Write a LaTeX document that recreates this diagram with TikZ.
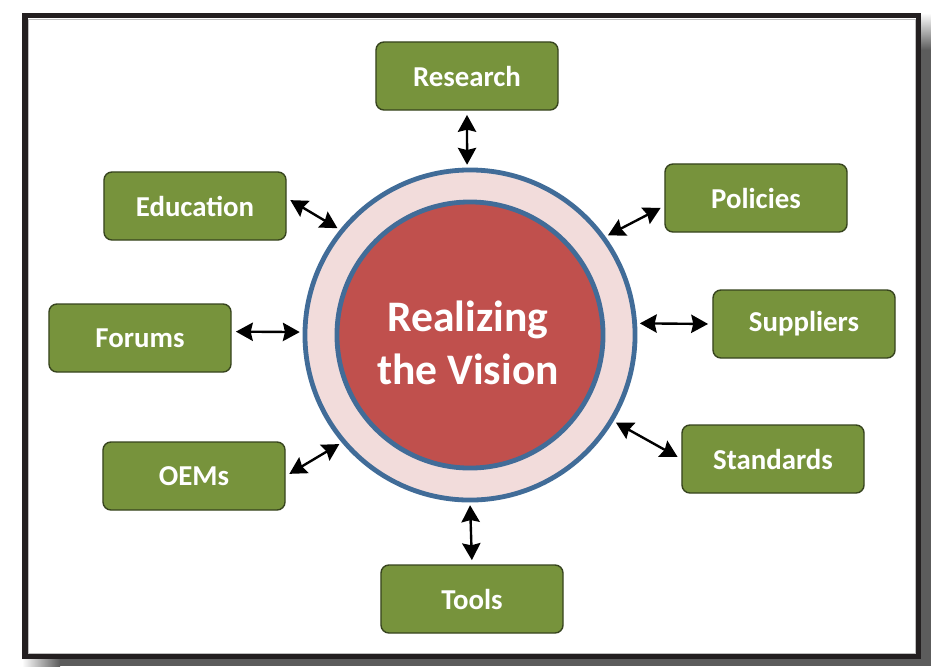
\documentclass[tikz,border=0pt]{standalone}
\usepackage{fontspec}
\setmainfont{Carlito}
\usetikzlibrary{arrows.meta, positioning, calc}
\definecolor{framegray}{RGB}{35,31,32}
\definecolor{shadowgray}{RGB}{92,92,92}
\definecolor{topicgreen}{RGB}{119,147,60}
\definecolor{topicedge}{RGB}{55,68,30}
\definecolor{ringblue}{RGB}{65,108,152}
\definecolor{ringpink}{RGB}{242,220,219}
\definecolor{visionred}{RGB}{192,80,77}
\tikzset{
  topicbox/.style={fill=topicgreen, draw=topicedge, line width=1pt, rounded corners=0.2cm,
                   minimum width=4.55cm, minimum height=1.7cm, text=white,
                   font=\fontsize{20.5}{24}\selectfont\bfseries},
  link/.style={{Stealth[length=12pt,width=13pt,inset=1.5pt]}-{Stealth[length=12pt,width=13pt,inset=1.5pt]},
               line width=1.7pt, shorten <=3pt, shorten >=2pt}
}

\begin{document}
\begin{tikzpicture}[x=0.025cm, y=-0.025cm]
            \useasboundingbox (0,0) rectangle (931,666);
            \fill[shadowgray] (60,659) rectangle (931,666);
            \fill[shadowgray] (921,50) rectangle (931,666);
            \shade[left color=white, right color=shadowgray] (22,659) rectangle (60,666);
            \shade[top color=white, bottom color=shadowgray] (921,13) rectangle (931,50);
            \draw[framegray, line width=0.14cm, fill=white] (25,15.5) rectangle (918.5,656.5);
            \draw[black!25, line width=0.4pt] (28.5,19) rectangle (915,653);

            \node[circle, minimum size=8.25cm, inner sep=0pt, fill=ringpink, draw=ringblue,
                  line width=0.12cm] (ring) at (470,335) {};
            \node[circle, minimum size=6.65cm, inner sep=0pt, fill=visionred, draw=ringblue,
                  line width=0.12cm] (vision) at (470,335) {};
            \node[text=white, align=center, font=\fontsize{31}{37.7}\selectfont\bfseries]
                  (visiontext) at (468,343) {Realizing\\the Vision};

            \node[topicbox] (research) at (467,76) {Research};
            \node[topicbox] (policies) at (756,198) {Policies};
            \node[topicbox] (suppliers) at (804,324) {Suppliers};
            \node[topicbox] (standards) at (773,459) {Standards};
            \node[topicbox] (tools) at (472,599) {Tools};
            \node[topicbox] (oems) at (194,476) {OEMs};
            \node[topicbox] (forums) at (140,338) {Forums};
            \node[topicbox] (education) at (195,206) {Education};

            \draw[link] (research.south) -- (ring.91);
            \draw[link] (policies.185) -- (ring.36);
            \draw[link] (suppliers.west) -- (ring.4);
            \draw[link] (standards.west) -- (ring.-31);
            \draw[link] (tools.north) -- (ring.south);
            \draw[link] (oems.east) -- (ring.220);
            \draw[link] (forums.4) -- (ring.179);
            \draw[link] (education.5) -- (ring.141);
        \end{tikzpicture}
\end{document}
